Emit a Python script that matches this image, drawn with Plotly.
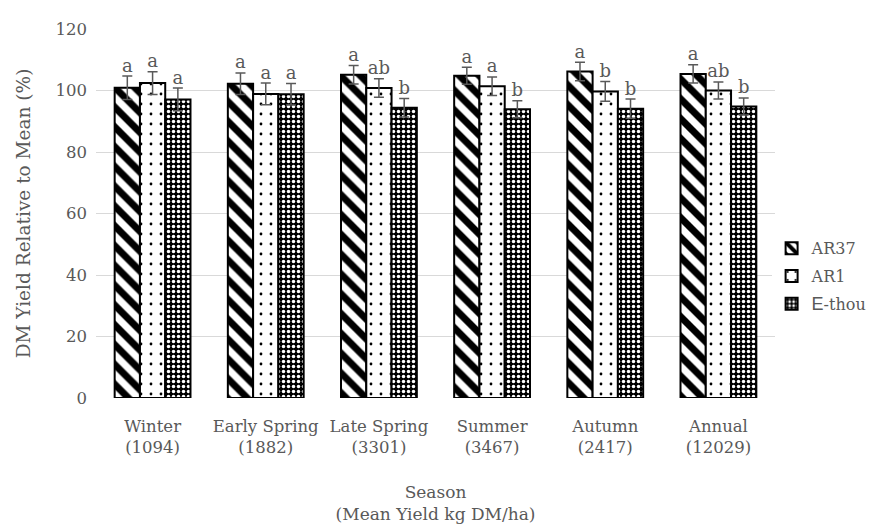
import plotly.graph_objects as go

seasons = ["Winter", "Early Spring", "Late Spring", "Summer", "Autumn", "Annual"]
mean_yield = ["1094", "1882", "3301", "3467", "2417", "12029"]
categories = [f"{s}<br>({m})" for s, m in zip(seasons, mean_yield)]

ar37 = [100.9, 102.2, 105.1, 104.8, 106.2, 105.4]
ar37_err = [3.8, 3.5, 3.0, 2.8, 3.0, 3.0]
ar37_sig = ["a", "a", "a", "a", "a", "a"]

ar1 = [102.4, 98.9, 100.8, 101.4, 99.7, 100.0]
ar1_err = [3.7, 3.5, 3.0, 3.0, 3.2, 2.8]
ar1_sig = ["a", "a", "ab", "a", "b", "ab"]

ethou = [97.1, 98.8, 94.4, 93.9, 94.1, 94.8]
ethou_err = [3.7, 3.5, 3.0, 2.8, 3.1, 2.8]
ethou_sig = ["a", "a", "b", "b", "b", "b"]

y_ticks = [0, 20, 40, 60, 80, 100, 120]

FONT = "DejaVu Serif"
GREY = "#595959"

series = [
    ("AR37", ar37, ar37_err, ar37_sig,
     dict(shape="\\", fgcolor="black", bgcolor="white", fgopacity=1, size=14, solidity=0.5)),
    ("AR1", ar1, ar1_err, ar1_sig,
     dict(shape=".", fgcolor="black", bgcolor="white", fgopacity=1, size=10, solidity=0.06)),
    ("<span style=\"font-family:'Liberation Sans',sans-serif;font-size:18px\">E</span>"
     "<span style=\"font-family:'DejaVu Serif',serif\">-thou</span>",
     ethou, ethou_err, ethou_sig,
     dict(shape=".", fgcolor="white", bgcolor="black", fgopacity=1, size=5, solidity=0.38)),
]

fig = go.Figure()
for i, (name, vals, errs, sig, pat) in enumerate(series):
    fig.add_trace(go.Bar(
        x=categories, y=vals, name=name, offsetgroup=str(i), legendgroup=str(i),
        marker=dict(color="white", pattern=pat, line=dict(color="black", width=2)),
        error_y=dict(type="data", array=errs, visible=True, color=GREY, thickness=1.5, width=5),
    ))
for i, (name, vals, errs, sig, pat) in enumerate(series):
    fig.add_trace(go.Scatter(
        x=categories, y=[v + e for v, e in zip(vals, errs)], mode="text", text=sig,
        textposition="top center", offsetgroup=str(i), showlegend=False,
        textfont=dict(family=FONT, size=18, color=GREY), hoverinfo="skip",
    ))

fig.update_layout(
    width=882, height=529,
    margin=dict(l=88, r=115, t=14, b=139),
    paper_bgcolor="white", plot_bgcolor="white",
    barmode="group", bargap=0.33, bargroupgap=0, scattermode="group",
    font=dict(family=FONT, size=16, color=GREY),
    showlegend=True,
    legend=dict(x=0.995, y=0.33, xanchor="left", yanchor="middle",
                font=dict(family=FONT, size=16, color=GREY), tracegroupgap=4,
                itemwidth=30),
    xaxis=dict(showgrid=False, showline=False, ticks="", tickfont=dict(size=16.5),
               ticklabelstandoff=16,
               title=dict(text="Season<br>(Mean Yield kg DM/ha)", font=dict(size=17), standoff=30)),
    yaxis=dict(range=[0, 120], tickvals=y_ticks, showgrid=True, gridcolor="#d9d9d9", gridwidth=1,
               zeroline=False, showline=False, ticks="", tickfont=dict(size=16.5),
               ticklabelstandoff=8,
               title=dict(text="DM Yield Relative to Mean (%)", font=dict(size=18.5), standoff=20)),
)

fig.write_html("out.html")
